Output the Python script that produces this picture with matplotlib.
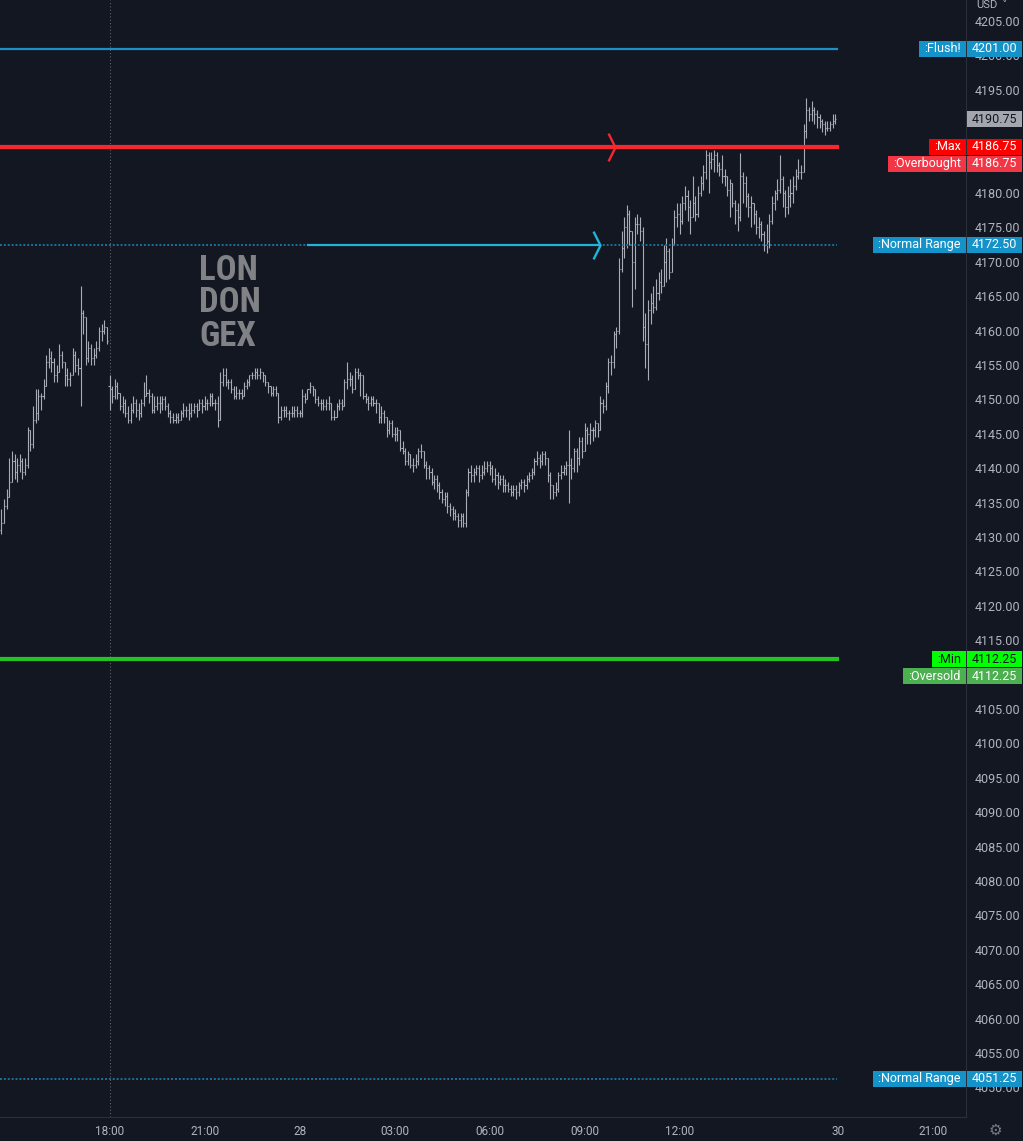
import numpy as np
import matplotlib
matplotlib.use('Agg')
import matplotlib.pyplot as plt
from matplotlib.collections import LineCollection
from matplotlib.patches import Rectangle
from matplotlib.path import Path
from matplotlib.transforms import IdentityTransform

# 5-minute bars: 13:35-16:55 on the first day, then from 18:00 (bar 41) to 16:55
closes = [
    4132.0, 4134.5, 4135.8, 4138.0, 4141.0, 4139.5, 4140.5, 4141.0, 4139.5, 4140.5,
    4145.5, 4143.5, 4147.0, 4148.0, 4150.5, 4150.5, 4152.0, 4155.5, 4156.0, 4155.5,
    4153.5, 4154.0, 4156.5, 4155.5, 4153.5, 4153.0, 4153.5, 4156.5, 4155.0, 4154.5,
    4162.5, 4162.0, 4156.0, 4157.5, 4156.0, 4156.5, 4157.5, 4160.0, 4160.0, 4160.5, 4158.5,
    4151.5, 4150.5, 4152.0, 4151.0, 4149.0, 4149.5, 4148.0, 4147.0, 4148.5, 4149.5,
    4148.5, 4148.0, 4149.5, 4150.5, 4151.0, 4150.5, 4148.5, 4149.0, 4149.5, 4149.5,
    4150.0, 4149.0, 4148.0, 4147.5, 4147.0, 4147.5, 4147.0, 4148.0, 4148.5, 4148.5,
    4148.0, 4148.5, 4149.0, 4148.5, 4149.5, 4149.0, 4149.5, 4149.5, 4150.5, 4149.5,
    4149.5, 4147.0, 4152.5, 4153.5, 4152.5, 4152.5, 4151.5, 4150.5, 4151.0, 4151.0,
    4150.5, 4152.0, 4152.5, 4153.5, 4153.5, 4154.0, 4153.5, 4154.0, 4153.5, 4152.5,
    4152.0, 4151.0, 4151.5, 4151.0, 4147.5, 4148.5, 4148.5, 4148.0, 4148.0, 4148.0,
    4148.5, 4148.0, 4148.0, 4150.5, 4150.0, 4151.5, 4152.0, 4151.5, 4150.0, 4149.5,
    4149.5, 4149.0, 4149.5, 4149.5, 4147.5, 4147.5, 4149.0, 4149.5, 4149.0, 4152.5,
    4153.0, 4153.0, 4151.5, 4154.0, 4153.5, 4153.5, 4150.5, 4150.0, 4149.5, 4150.0,
    4149.5, 4149.5, 4147.5, 4148.0, 4147.5, 4145.5, 4146.5, 4145.0, 4145.0, 4145.5,
    4143.0, 4142.5, 4141.0, 4142.0, 4140.5, 4140.5, 4141.0, 4142.5, 4142.5, 4140.5,
    4140.0, 4139.5, 4138.0, 4138.5, 4137.5, 4136.5, 4135.5, 4136.0, 4134.5, 4134.0,
    4133.5, 4133.0, 4132.5, 4133.0, 4132.0, 4136.5, 4139.5, 4139.0, 4139.5, 4140.0,
    4139.0, 4139.5, 4140.0, 4140.5, 4140.0, 4138.5, 4139.0, 4138.0, 4138.5, 4137.5,
    4137.5, 4137.0, 4136.5, 4137.0, 4136.5, 4137.5, 4138.0, 4137.5, 4138.5, 4139.0,
    4139.5, 4141.0, 4141.5, 4141.0, 4142.0, 4141.5, 4139.0, 4137.5, 4136.5, 4137.0,
    4139.0, 4139.5, 4140.0, 4140.5, 4140.5, 4140.0, 4142.5, 4141.5, 4144.0, 4142.5,
    4145.5, 4145.0, 4145.5, 4145.5, 4146.5, 4145.5, 4149.5, 4149.0, 4152.0, 4155.5,
    4155.5, 4159.5, 4160.0, 4169.0, 4172.0, 4175.0, 4177.0, 4174.5, 4170.0, 4175.5,
    4175.5, 4174.5, 4160.5, 4158.0, 4163.0, 4164.0, 4163.5, 4165.5, 4167.0, 4166.5,
    4170.0, 4171.5, 4168.5, 4172.5, 4176.5, 4177.0, 4176.0, 4178.5, 4179.5, 4178.0,
    4176.5, 4178.5, 4177.0, 4180.0, 4181.5, 4183.0, 4185.5, 4184.5, 4185.0, 4185.5,
    4184.0, 4183.5, 4182.5, 4182.5, 4180.5, 4181.5, 4178.5, 4177.5, 4176.5, 4182.5,
    4181.5, 4179.5, 4178.0, 4178.5, 4177.0, 4175.0, 4175.5, 4174.0, 4172.5, 4173.0,
    4176.0, 4178.5, 4180.0, 4180.5, 4182.0, 4180.0, 4178.0, 4179.5, 4180.0, 4181.0,
    4182.5, 4183.0, 4183.0, 4189.0, 4192.0, 4191.5, 4192.0, 4191.5, 4191.0, 4190.5,
    4190.0, 4189.5, 4189.5, 4190.0, 4190.5, 4190.75,
]
highs = [
    4134, 4135.5, 4137, 4141.5, 4142.5, 4142, 4141.5, 4142, 4141.5, 4141.5,
    4146, 4145.5, 4149, 4151.5, 4151.5, 4151, 4153, 4156.5, 4157.5, 4157,
    4156, 4155, 4158, 4157, 4155.5, 4154.5, 4154, 4157.5, 4157, 4156,
    4166.5, 4163, 4160.5, 4158.5, 4158, 4157.5, 4158.5, 4160.5, 4161, 4161.5, 4160.5,
    4153.5, 4152, 4153, 4152.5, 4151, 4150.5, 4150, 4149, 4149.5, 4150.5,
    4150, 4149.5, 4150, 4152.5, 4153.5, 4151.5, 4151, 4150.5, 4150.5, 4150.5,
    4150.5, 4150.5, 4149.5, 4148.5, 4148, 4148, 4148, 4148.5, 4149.5, 4149,
    4149.5, 4149.5, 4149.5, 4149.5, 4150, 4150, 4150.5, 4150, 4151, 4151,
    4150, 4150.5, 4154, 4154.5, 4154.5, 4153, 4153, 4152, 4152, 4151.5,
    4151.5, 4152.5, 4153, 4153.5, 4154, 4154.5, 4154.5, 4154.5, 4154, 4153.5,
    4152.5, 4152, 4152, 4152, 4151, 4149, 4149, 4149, 4148.5, 4149,
    4149, 4149, 4148.5, 4151.5, 4151, 4151.5, 4152.5, 4152, 4151.5, 4150.5,
    4150, 4150, 4150, 4150.5, 4149.5, 4148.5, 4149.5, 4150, 4150, 4153,
    4155.5, 4154, 4153.5, 4154.5, 4154.5, 4154, 4151, 4151, 4150.5, 4150.5,
    4150.5, 4150, 4149.5, 4149, 4148.5, 4147.5, 4147, 4147, 4146, 4146,
    4145.5, 4144, 4143, 4142.5, 4142, 4141.5, 4142, 4143, 4143.5, 4142.5,
    4141, 4140.5, 4140, 4139, 4139, 4138, 4137, 4136.5, 4136.5, 4135,
    4134.5, 4134, 4133.5, 4133.5, 4133.5, 4137, 4140, 4140.5, 4140, 4140.5,
    4140.5, 4140.5, 4141, 4141, 4141, 4140.5, 4140, 4139.5, 4139, 4139,
    4138.5, 4138, 4137.5, 4137.5, 4137.5, 4138, 4138.5, 4138.5, 4139, 4139.5,
    4140, 4141.5, 4142.5, 4142, 4142.5, 4142.5, 4141.5, 4139.5, 4137.5, 4138,
    4139.5, 4140.5, 4140.5, 4141, 4145.5, 4141.5, 4143, 4143, 4144.5, 4144.5,
    4146.5, 4146, 4146.5, 4146, 4147, 4146.5, 4150.5, 4150, 4152.5, 4156,
    4156.5, 4160, 4160.5, 4170.5, 4174.5, 4176.5, 4178.2, 4177.5, 4174, 4176.5,
    4177, 4176.5, 4175, 4162.5, 4164.5, 4165.5, 4166.5, 4167.5, 4168.5, 4169,
    4172.5, 4173.5, 4172, 4173.5, 4177.5, 4178.5, 4178.5, 4179.5, 4181, 4180.5,
    4179, 4182.5, 4179.5, 4181, 4182.5, 4184, 4186.3, 4186, 4186, 4186.3,
    4186, 4184.5, 4185.5, 4183.5, 4182.5, 4182, 4181.5, 4179, 4178.5, 4185.8,
    4183, 4182.5, 4180, 4179.5, 4178.5, 4177.5, 4176.5, 4176, 4174.5, 4175.5,
    4177, 4179.5, 4180.5, 4182, 4185.5, 4182.5, 4180.5, 4181, 4182, 4182.5,
    4183.5, 4185, 4184, 4190, 4193.8, 4192.5, 4193.3, 4192.5, 4192, 4191.5,
    4190.8, 4190.5, 4190.5, 4190.5, 4191.5, 4191.5,
]
lows = [
    4130.5, 4132, 4134, 4136, 4139, 4138.5, 4138, 4139.5, 4138.5, 4139,
    4140, 4142.5, 4143, 4146.5, 4147, 4148.5, 4150, 4152, 4154.5, 4154,
    4152.5, 4152.5, 4155, 4154.5, 4152, 4152, 4152, 4154, 4154, 4153.5,
    4149, 4159.5, 4155, 4155.5, 4155, 4155, 4156, 4157, 4158.5, 4159.5, 4158,
    4148.5, 4149.5, 4150, 4150, 4148.5, 4148, 4147.5, 4146.5, 4146.5, 4148,
    4147.5, 4147, 4147.5, 4149, 4150.5, 4149.5, 4148, 4148, 4148.5, 4148,
    4148.5, 4148.5, 4147.5, 4146.5, 4146.5, 4146.5, 4146.5, 4147, 4147.5, 4147.5,
    4147, 4147.5, 4148, 4147.5, 4148.5, 4148, 4148.5, 4148.5, 4149, 4149,
    4148.5, 4146, 4150, 4152, 4152, 4151.5, 4151, 4150, 4150, 4150,
    4150, 4150.5, 4151.5, 4152, 4153, 4153, 4153, 4153, 4152.5, 4152,
    4151, 4150.5, 4150.5, 4150.5, 4146.5, 4147, 4147.5, 4147.5, 4147, 4147.5,
    4147.5, 4147.5, 4147.5, 4147.5, 4149.5, 4150, 4151, 4150.5, 4149.5, 4149,
    4148.5, 4148.5, 4148.5, 4148.5, 4147, 4147, 4147.5, 4148.5, 4148.5, 4149,
    4151.5, 4152, 4151, 4151.5, 4153, 4150.5, 4150, 4149.5, 4148.5, 4149,
    4149, 4148, 4146.5, 4146.5, 4146.5, 4144.5, 4145, 4144.5, 4144, 4144,
    4142.5, 4142, 4140.5, 4140.5, 4140, 4139.5, 4140, 4140.5, 4141.5, 4140,
    4138.5, 4138.5, 4137.5, 4137, 4136.5, 4135.5, 4135, 4134.5, 4133.5, 4133,
    4132.5, 4132.5, 4131.5, 4131.5, 4131.5, 4131.5, 4136, 4138, 4138, 4139,
    4138, 4138.5, 4139, 4139.5, 4139, 4138, 4137.5, 4137, 4137.5, 4136.5,
    4136.5, 4136.5, 4136, 4136, 4135.5, 4136, 4137, 4136.5, 4137, 4138,
    4138.5, 4139, 4140.5, 4140, 4140.5, 4140.5, 4138, 4135.5, 4135.5, 4136,
    4136.5, 4138.5, 4139, 4139, 4135, 4138.5, 4139.5, 4139.5, 4140.5, 4141.5,
    4142.5, 4143.5, 4143.5, 4144, 4144.5, 4144.5, 4145.5, 4148, 4148.5, 4151,
    4153.5, 4154.5, 4157.5, 4159.5, 4168.5, 4170.5, 4172, 4172.5, 4163.5, 4166,
    4174, 4173, 4158.5, 4154.5, 4152.8, 4161, 4162.5, 4163, 4164.5, 4165.5,
    4168, 4167, 4167.5, 4169, 4172.5, 4175, 4174, 4175.5, 4177.5, 4176,
    4174, 4177.5, 4176, 4176.5, 4179.5, 4180.5, 4182, 4180, 4183.5, 4183,
    4183, 4182.5, 4181.5, 4181, 4179.5, 4176.5, 4178, 4175.5, 4174.5, 4176,
    4178.5, 4178, 4176.5, 4175, 4175.5, 4174, 4173.5, 4173, 4171.5, 4171.3,
    4172, 4175.5, 4177.5, 4179, 4180, 4178, 4176.5, 4177, 4178, 4178.5,
    4180.5, 4182, 4182, 4183, 4188, 4190.5, 4190.5, 4190, 4189.5, 4189.5,
    4188.8, 4188.5, 4189, 4189, 4189.5, 4190,
]
first_open = 4131.0
session_start = 41      # first 18:00 bar
session_open = 4152.0

# horizontal levels
level_names = [':Flush!', ':Max', ':Overbought', ':Normal Range', ':Min', ':Oversold', ':Normal Range']
level_prices = [4201.00, 4186.75, 4186.75, 4172.50, 4112.25, 4112.25, 4051.25]
level_stack = [0, 0, 1, 0, 0, 1, 0]
level_bg = ['#1592c8', '#ff0000', '#f23645', '#1592c8', '#00ff00', '#4caf50', '#1592c8']
level_fg = ['white', 'white', 'white', 'white', '#131722', 'white', 'white']

# time axis labels (bar index of each)
xtick_bars = [41, 77, 113, 149, 185, 221, 257, 317, 353]
xtick_labels = ['18:00', '21:00', '28', '03:00', '06:00', '09:00', '12:00', '30', '21:00']
ytick_prices = np.arange(4050, 4206, 5)
hidden_ticks = [4190, 4185, 4110]   # fully covered by the price boxes

# arrows drawn on the Max and Normal Range levels
arrow_bars = [232.5, 226.9]
arrow_prices = [4186.75, 4172.50]
ray_start_bar = 116.2

BG = '#131722'
TXT = '#b2b5be'
W, H = 1023, 1141

plt.rcParams['font.family'] = ['Roboto', 'DejaVu Sans']
fig = plt.figure(figsize=(W / 100, H / 100), dpi=100, facecolor=BG)
ax = fig.add_axes([0, 24 / H, 966 / W, 1117 / H])
ax.set_facecolor(BG)
ax.set_xlim(-0.5, 365.5)
ax.set_ylim(4045.70, 4208.05)

n = len(closes)
c = np.array(closes)
o = np.concatenate([[first_open], c[:-1]])
o[session_start] = session_open
h = np.maximum(np.array(highs), np.maximum(o, c))
l = np.minimum(np.array(lows), np.minimum(o, c))

segs = []
for i in range(n):
    segs.append([(i, l[i]), (i, h[i])])
    segs.append([(i - 0.4, o[i]), (i, o[i])])
    segs.append([(i, c[i]), (i + 0.4, c[i])])
ax.add_collection(LineCollection(segs, colors='#a9acb4', linewidths=0.8, zorder=3))

# session break
ax.axvline(session_start, color='#5d606b', lw=0.8, ls=(0, (1, 2)), zorder=1)

# watermark
for k, word in enumerate(['LON', 'DON', 'GEX']):
    ax.text(199 / 966, 1 - (270 + 33 * k) / 1117, word, transform=ax.transAxes,
            ha='left', va='center', fontsize=25, fontweight='bold', color='#808286',
            family=['Roboto Condensed', 'Liberation Sans Narrow', 'Roboto'], zorder=2)

x_end = n - 0.5
x0 = -0.5
# level lines
ax.plot([x0, x_end], [level_prices[0]] * 2, color='#1e8fc6', lw=1.6, zorder=4)
ax.plot([x0, x_end], [level_prices[1]] * 2, color='#f7262f', lw=3.0, zorder=4)
ax.plot([x0, x_end], [level_prices[3]] * 2, color='#1d6f9c', lw=1.4, ls=(0, (1, 1)), zorder=4)
ax.plot([x0, x_end], [level_prices[4]] * 2, color='#22c322', lw=3.0, zorder=4)
ax.plot([x0, x_end], [level_prices[6]] * 2, color='#1d6f9c', lw=1.4, ls=(0, (1, 1)), zorder=4)
ax.plot([ray_start_bar, arrow_bars[1]], [arrow_prices[1]] * 2, color='#1fb4d8', lw=1.6, zorder=5)

chevron = Path([(-0.5, 1), (0, 0), (-0.5, -1)], [Path.MOVETO, Path.LINETO, Path.LINETO])
ax.plot([arrow_bars[0]], [arrow_prices[0]], marker=chevron, ms=20, mfc='none',
        mec='#f7262f', mew=1.7, zorder=5)
ax.plot([arrow_bars[1]], [arrow_prices[1]], marker=chevron, ms=20, mfc='none',
        mec='#1fb4d8', mew=1.7, zorder=5)

# axes styling
for s in ['top', 'left']:
    ax.spines[s].set_visible(False)
ax.spines['bottom'].set_color('#2a2e39')
ax.spines['right'].set_color('#2a2e39')
ax.yaxis.tick_right()
ax.set_yticks(ytick_prices)
ax.set_yticklabels(['' if p in hidden_ticks else '%.2f' % p for p in ytick_prices])
ax.set_xticks(xtick_bars)
ax.set_xticklabels(xtick_labels)
ax.tick_params(axis='y', length=0, pad=6, labelsize=9, labelcolor=TXT)
ax.tick_params(axis='x', length=0, pad=6, labelsize=8.5, labelcolor=TXT)

# price labels on the right
fig.canvas.draw()
renderer = fig.canvas.get_renderer()


def price_box(price, stack, value, bg, fg, name=None):
    y = ax.transData.transform((0, price))[1] - stack * 17
    fig.patches.append(Rectangle((966.5, y - 8), 55, 16, transform=IdentityTransform(),
                                 facecolor=bg, edgecolor='none', zorder=5))
    fig.text(994.5 / W, y / H, value, ha='center', va='center', fontsize=9,
             color=fg, zorder=6)
    if name:
        t = fig.text(961 / W, y / H, name, ha='right', va='center', fontsize=9,
                     color=fg, zorder=6)
        w = t.get_window_extent(renderer).width
        fig.patches.append(Rectangle((955.5 - w, y - 8), w + 10, 16,
                                     transform=IdentityTransform(),
                                     facecolor=bg, edgecolor='none', zorder=5))


for name, p, st, bg, fg in zip(level_names, level_prices, level_stack, level_bg, level_fg):
    price_box(p, st, '%.2f' % p, bg, fg, name)
price_box(closes[-1], 0, '%.2f' % closes[-1], '#a3a6af', '#131722')

fig.text(976 / W, 1 - 5 / H, 'USD', fontsize=8, color=TXT, va='center', ha='left')
fig.text(1002 / W, 1 - 5 / H, '\u02c5', fontsize=8, color=TXT, va='center', ha='left',
         family=['DejaVu Sans'])
fig.text(995 / W, 1 - 1130 / H, '\u2699', fontsize=11, color='#787b86', va='center',
         ha='center', family=['DejaVu Sans'])

fig.savefig('out.png', dpi=100, facecolor=BG)
